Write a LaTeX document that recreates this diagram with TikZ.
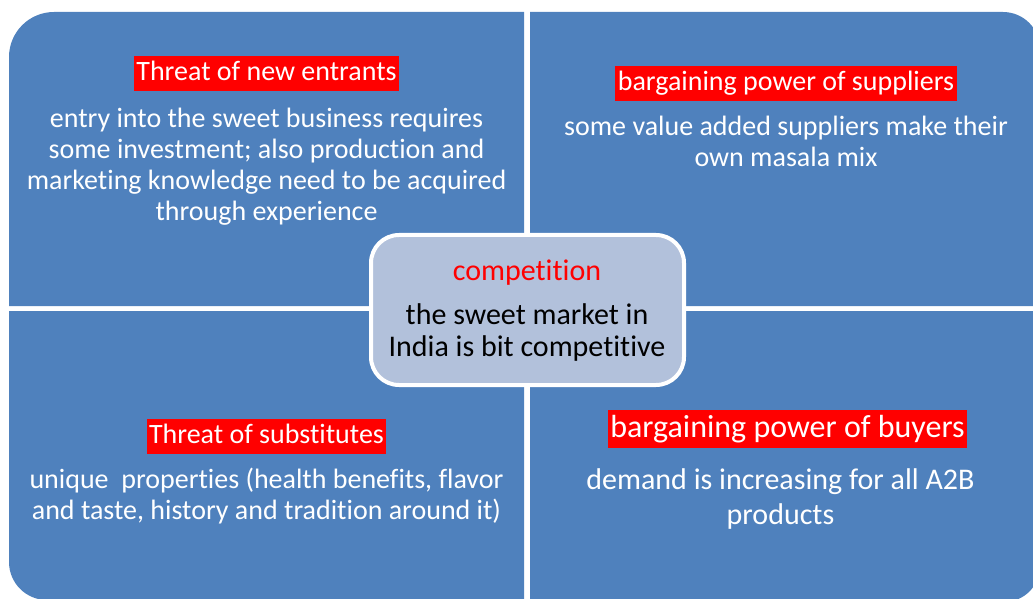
\documentclass[tikz,border=0pt]{standalone}
\usepackage{fontspec}
\setmainfont{Carlito}[Ligatures=NoCommon]
\usetikzlibrary{positioning}
\definecolor{quadblue}{HTML}{4F81BD}
\definecolor{hubfill}{HTML}{B2C1DB}

\begin{document}
\begin{tikzpicture}[x=1pt, y=1pt,
    hdr/.style={fill=red, text=white, inner xsep=2.5pt, inner ysep=3.5pt,
                text height=21pt, text depth=7pt, font=\fontsize{28}{31}\selectfont},
    txt/.style={text=white, align=center, inner sep=0pt, font=\fontsize{28}{31}\selectfont},
    hub/.style={draw=white, line width=4pt, fill=hubfill, rounded corners=28pt,
                minimum width=313pt, minimum height=150pt}
  ]
  \useasboundingbox (0,0) rectangle (1033,598);

  % four quadrants, each with its outer corner rounded
  \fill[quadblue] (9,292) -- (9,541) arc[start angle=180, end angle=90, radius=45]
    -- (524,586) -- (524,292) -- cycle;
  \fill[quadblue] (530,292) -- (530,586) -- (1003,586)
    arc[start angle=90, end angle=0, radius=37] -- (1040,292) -- cycle;
  \fill[quadblue] (524,287) -- (9,287) -- (9,36)
    arc[start angle=180, end angle=270, radius=38] -- (524,-2) -- cycle;
  \fill[quadblue] (530,287) -- (1040,287) -- (1040,32)
    arc[start angle=0, end angle=-90, radius=36] -- (530,-4) -- cycle;

  % threat of new entrants
  \node[hdr] (entrants) at (266.5,524) {Threat of new entrants};
  \node[txt, below=16pt of entrants] (entrantsTxt) {entry into the sweet business requires\\
    some investment; also production and\\marketing knowledge need to be acquired\\through experience};

  % suppliers
  \node[hdr] (suppliers) at (786,514) {bargaining power of suppliers};
  \node[txt, below=14.5pt of suppliers] (suppliersTxt) {some value added suppliers make their\\own masala mix};

  % substitutes
  \node[hdr] (subst) at (266.5,161.5) {Threat of substitutes};
  \node[txt, below=14pt of subst] (substTxt) {unique\ \ properties (health benefits, flavor\\
    and taste, history and tradition around it)};

  % buyers
  \node[hdr, text height=24pt, text depth=8pt, inner ysep=3pt, font=\fontsize{32}{35}\selectfont]
    (buyers) at (787.5,169) {bargaining power of buyers};
  \node[txt, font=\fontsize{30}{35}\selectfont, below=20pt of buyers, xshift=-7pt] (buyersTxt)
    {demand is increasing for all A2B\\products};

  % competition in the middle
  \node[hub] (hub) at (527.5,288) {};
  \node[text=red, inner sep=0pt, anchor=base, font=\fontsize{30}{33}\selectfont]
    (comp) at (527,318) {competition};
  \node[txt, text=black, font=\fontsize{30}{32}\selectfont, below=18.5pt of comp] (compTxt)
    {the sweet market in\\India is bit competitive};
\end{tikzpicture}
\end{document}
